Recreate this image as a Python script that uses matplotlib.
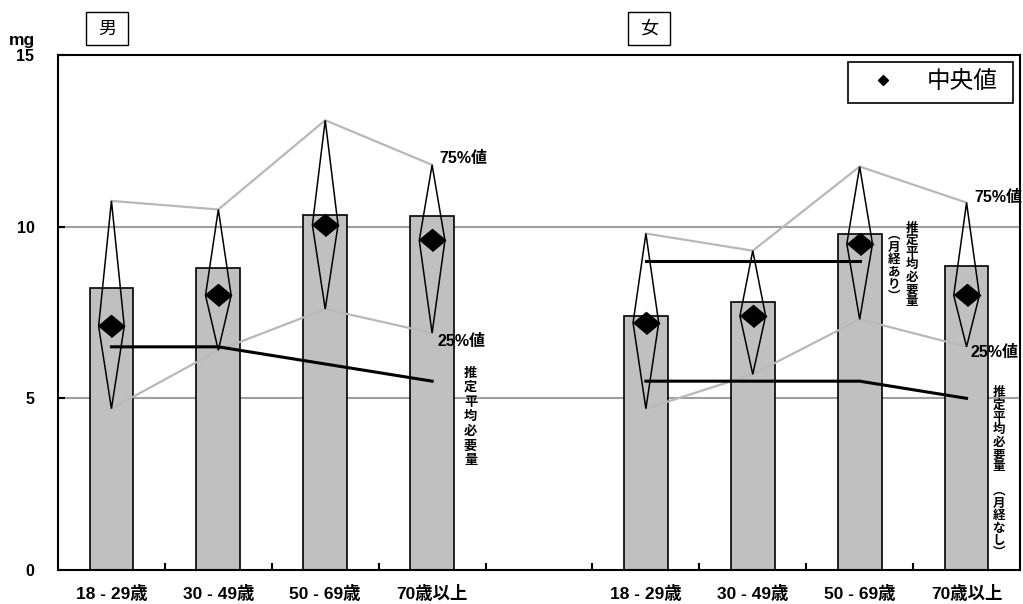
import numpy as np
import matplotlib.pyplot as plt
from matplotlib.patches import Polygon, Rectangle

plt.rcParams['font.family'] = ['Liberation Sans', 'Noto Sans CJK JP', 'DejaVu Sans']

# ages and the two sex groups
ages = ['18 - 29歳', '30 - 49歳', '50 - 69歳', '70歳以上']
groups = ['男', '女']

# male values (mg)
male_mean = [8.2, 8.8, 10.35, 10.3]
male_median = [7.1, 8.0, 10.05, 9.6]
male_q75 = [10.75, 10.5, 13.1, 11.8]
male_q25 = [4.7, 6.4, 7.6, 6.9]
male_ear = [6.5, 6.5, 6.0, 5.5]

# female values (mg)
female_mean = [7.4, 7.8, 9.8, 8.85]
female_median = [7.2, 7.4, 9.5, 8.0]
female_q75 = [9.8, 9.3, 11.75, 10.7]
female_q25 = [4.7, 5.7, 7.3, 6.5]
female_ear_mens = [9.0, 9.0, 9.0]
female_ear_nomens = [5.5, 5.5, 5.5, 5.0]

male_x = np.arange(4)
female_x = np.arange(4) + 5

fig = plt.figure(figsize=(10.23, 6.04), dpi=100)
ax = fig.add_axes([58 / 1023, 34 / 604, 962 / 1023, 515 / 604])

for y in [5, 10]:
    ax.axhline(y, color='#a0a0a0', lw=1.5, zorder=0)

def draw_group(xs, mean, med, q75, q25):
    ax.bar(xs, mean, width=0.41, color='#c0c0c0', edgecolor='black', linewidth=1.2, zorder=2)
    ax.plot(xs, q75, color='#b8b8b8', lw=1.6, zorder=3)
    ax.plot(xs, q25, color='#b8b8b8', lw=1.6, zorder=3)
    for x, m, hi, lo in zip(xs, med, q75, q25):
        ax.add_patch(Polygon([(x, hi), (x + 0.12, m), (x, lo), (x - 0.12, m)],
                             closed=True, fill=False, edgecolor='black', lw=1.1, zorder=5))
    ax.plot(xs, med, linestyle='none', marker=[(-1.2, 0), (0, 1), (1.2, 0), (0, -1)],
            ms=19, color='black', zorder=6)

draw_group(male_x, male_mean, male_median, male_q75, male_q25)
draw_group(female_x, female_mean, female_median, female_q75, female_q25)

# estimated average requirement
ax.plot(male_x, male_ear, color='black', lw=2.2, zorder=4)
ax.plot(female_x[:3], female_ear_mens, color='black', lw=2.2, zorder=4)
ax.plot(female_x, female_ear_nomens, color='black', lw=2.2, zorder=4)

lab_kw = dict(fontsize=11.5, fontweight='bold', va='center', ha='left', zorder=7)
ax.text(male_x[-1] + 0.07, male_q75[-1] + 0.2, '75%値', **lab_kw)
ax.text(male_x[-1] + 0.05, male_q25[-1] - 0.25, '25%値', **lab_kw)
ax.text(female_x[-1] + 0.07, female_q75[-1] + 0.15, '75%値', **lab_kw)
ax.text(female_x[-1] + 0.04, female_q25[-1] - 0.15, '25%値', **lab_kw)

def vtext(x, y, s, fs, ls):
    ax.text(x, y, '\n'.join(s), ha='center', va='top', fontsize=fs, fontweight='bold',
            family='Noto Sans CJK JP', linespacing=ls, zorder=7)

vtext(3.36, 5.95, '推定平均必要量', 9.5, 1.05)
vtext(7.49, 10.15, '推定平均必要量', 9, 0.93)
vtext(7.32, 9.95, '︵月経あり︶', 9, 0.93)
vtext(8.30, 5.35, '推定平均必要量　︵月経なし︶', 9, 0.93)

# legend box
ax.add_patch(Rectangle((0.821, 0.907), 0.172, 0.079, transform=ax.transAxes,
                       facecolor='white', edgecolor='black', lw=1.2, zorder=8))
ax.plot([0.858], [0.951], marker='D', ms=5, color='black', transform=ax.transAxes, zorder=9)
ax.text(0.903, 0.949, '中央値', transform=ax.transAxes, fontsize=17, va='center', ha='left',
        family='Noto Sans CJK JP', zorder=9)

ax.set_xlim(-0.5, 8.5)
ax.set_ylim(0, 15)
ax.set_xticks(list(male_x) + list(female_x))
ax.set_xticklabels(ages + ages, fontsize=12.5, fontweight='bold')
ax.set_xticks(np.arange(0.5, 8, 1), minor=True)
ax.tick_params(axis='x', which='major', length=0, pad=11)
ax.tick_params(axis='x', which='minor', direction='in', length=5, width=1.5)
ax.set_yticks([0, 5, 10, 15])
ax.set_yticklabels(['0', '5', '10', '15'], fontsize=11.5, fontweight='bold')
ax.tick_params(axis='y', direction='in', length=5, width=1.5, pad=17)
for sp in ax.spines.values():
    sp.set_linewidth(1.5)

fig.text(22 / 1023, 1 - 41 / 604, 'mg', fontsize=12.5, fontweight='bold', ha='center', va='center')

# group boxes
for name, px in zip(groups, [86, 628]):
    fig.patches.append(Rectangle((px / 1023, 1 - 45 / 604), 42 / 1023, 33 / 604,
                                 transform=fig.transFigure, facecolor='white',
                                 edgecolor='black', lw=1.0))
    fig.text((px + 21) / 1023, 1 - 29 / 604, name, fontsize=13, ha='center', va='center',
             family='Noto Sans CJK JP')

fig.savefig('out.png', dpi=100)
